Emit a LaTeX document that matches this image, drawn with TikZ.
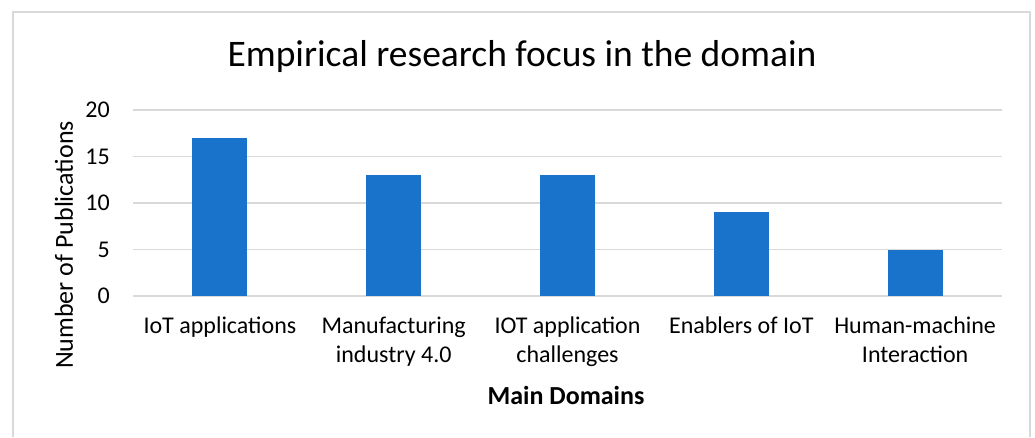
\documentclass[tikz,border=0pt]{standalone}
\usepackage{fontspec}
\setmainfont{Carlito}
\definecolor{barblue}{RGB}{25,115,203}
\definecolor{gridgray}{RGB}{217,217,217}

\begin{document}
\begin{tikzpicture}[x=1pt, y=-1pt,
    bar/.style = {fill=barblue, draw=none},
    grid line/.style = {draw=gridgray, line width=1.5pt},
    tick label/.style = {anchor=east, inner sep=0pt, font=\fontsize{24}{28}\selectfont},
    cat label/.style = {anchor=north, align=center, inner sep=0pt, font=\fontsize{24}{29}\selectfont}]
  \useasboundingbox (0,0) rectangle (1035,437);
  % chart frame
  \draw[gridgray, line width=2pt] (13,437) -- (13,12) -- (1030,12) -- (1030,437);
  \node (title) at (522,56) {\fontsize{37.5}{42}\selectfont Empirical research focus in the domain};
  % gridlines and tick labels
  \foreach \v in {0,5,...,20} {
    \coordinate (gl\v) at (133,{296-9.3*\v});
    \coordinate (gr\v) at (1002,{296-9.3*\v});
    \draw[grid line] (gl\v) -- (gr\v);
    \node[tick label] (tick\v) at (110,{296-9.3*\v}) {\v};
  }
  % bars
  \foreach \v/\name [count=\i] in {17/IoT applications,
      13/Manufacturing\\industry 4.0,
      13/IOT application\\challenges,
      9/Enablers of IoT,
      5/Human-machine\\Interaction} {
    \path[bar] ({133+173.8*(\i-0.5)-27.5},296) rectangle ({133+173.8*(\i-0.5)+27.5},{296-9.3*\v});
    \node[cat label] (cat\i) at ({133+173.8*(\i-0.5)},317) {\name};
  }
  \node[rotate=90, font=\fontsize{26}{30}\selectfont] (ylab) at (64,245) {Number of Publications};
  \node[font=\fontsize{26}{30}\selectfont\bfseries] (xlab) at (566,395) {Main Domains};
\end{tikzpicture}
\end{document}
